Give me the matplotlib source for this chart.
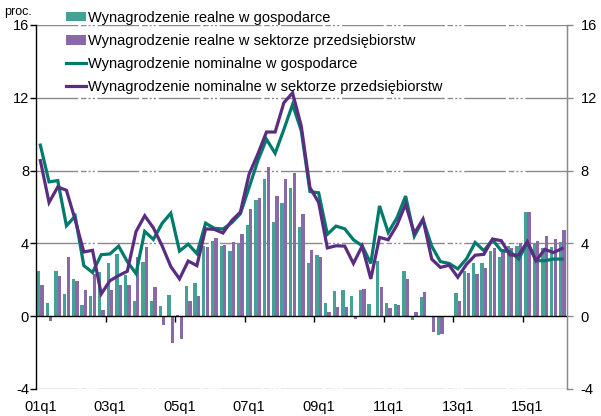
import matplotlib
matplotlib.use("Agg")
import matplotlib.pyplot as plt
from matplotlib.patches import Patch
from matplotlib.lines import Line2D
import numpy as np

plt.rcParams['font.family'] = ['Liberation Sans', 'DejaVu Sans']
plt.rcParams['axes.unicode_minus'] = False

# Quarterly data 2001q1 .. 2016q1 (61 quarters)
tick_labels = ['01q1', '03q1', '05q1', '07q1', '09q1', '11q1', '13q1', '15q1']

real_economy = [2.48, 0.71, 2.48, 1.2, 2.06, 0.62, 1.11, 2.43, 2.9, 3.4, 2.26, 0.82, 3.0, 0.84, 0.55, 1.19, 0.05, 1.64, 1.83,
                3.85, 4.12, 3.88, 3.56, 3.98, 5.0, 6.37, 7.56, 5.2, 6.2, 7.03, 4.91, 2.9, 3.36, 0.71, 1.39, 1.44, 1.1, 1.46, 0.68,
                3.03, 0.73, 0.66, 2.48, -0.2, 1.04, -0.04, -1.05, 0.0,
                1.28, 2.5, 2.94, 2.9, 3.58, 3.23, 3.85, 3.85, 5.7, 4.02, 3.76, 3.78, 4.07]

real_enterprise = [1.72, -0.27, 2.23, 3.23, 1.92, 1.44, 2.32, 0.35, 1.44, 1.72, 1.72, 3.23, 3.82, 1.63, -0.47, -1.46, -1.28, 0.82, 1.13,
                   3.8, 4.32, 3.9, 4.1, 4.53, 5.9, 6.5, 8.22, 6.61, 7.53, 7.89, 5.6, 3.62, 3.23, 0.22, 0.51, 0.51, -0.18, 1.52, -0.07,
                   1.63, 0.44, 0.62, 2.05, 0.22, 1.32, -0.85, -0.97, 0.0,
                   0.86, 2.35, 2.3, 2.63, 3.75, 3.7, 3.73, 4.02, 5.7, 4.13, 4.42, 4.22, 4.72]

nominal_economy = [9.4, 7.38, 7.45, 4.97, 5.5, 2.78, 2.4, 3.38, 3.42, 3.85, 3.0, 2.34, 4.66, 4.22, 5.1, 5.66, 3.58, 3.96, 3.44, 5.11,
                   4.83, 4.79, 5.13, 5.63, 7.07, 8.53, 9.72, 8.95, 10.26, 11.63, 10.2,
                   6.85, 6.78, 4.5, 4.95, 4.8, 4.2, 3.87, 2.9, 6.06,
                   4.6, 5.4, 6.6, 4.4, 5.3, 3.85, 3.0, 2.9, 2.6, 3.15,
                   4.05, 3.6, 4.2, 3.6, 3.55, 3.14, 4.05, 3.05, 3.05, 3.14, 3.14]

nominal_enterprise = [8.55, 6.25, 7.1, 6.92, 5.3, 3.53, 3.62, 1.22, 1.95, 2.23, 2.47, 4.65, 5.52, 4.85, 3.87, 2.73, 2.05, 3.03, 2.78, 4.8,
                      4.77, 4.57, 5.25, 5.72, 7.8, 8.9, 10.12, 10.12, 11.73, 12.27, 10.45,
                      7.07, 6.25, 3.75, 3.87, 3.85, 2.9, 3.85, 2.05, 4.33,
                      4.2, 5.0, 6.15, 4.55, 5.33, 3.14, 2.68, 2.8, 2.14, 2.85,
                      3.35, 3.4, 4.24, 4.15, 3.36, 3.36, 4.1, 3.05, 3.67, 3.5, 3.72]

labels = ['Wynagrodzenie realne w gospodarce',
          'Wynagrodzenie realne w sektorze przedsiębiorstw',
          'Wynagrodzenie nominalne w gospodarce',
          'Wynagrodzenie nominalne w sektorze przedsiębiorstw']

c_bar_teal = '#45a096'
c_bar_purple = '#8a69a9'
c_line_teal = '#007a6b'
c_line_purple = '#5b2d82'

n = len(real_economy)
x = np.arange(n)

fig = plt.figure(figsize=(6.01, 4.16), dpi=100)
ax = fig.add_axes([36/601, 1-389/416, (566.5-36)/601, (389-25)/416])

ax.set_xlim(-0.5, n - 0.5)
ax.set_ylim(-4, 16)

# grid lines
grid_style = dict(color='#8a8a8a', lw=1.0, linestyle=(0, (30, 2, 4, 1.5, 1.5, 1.5, 1.5, 2)), zorder=0)
for gy in [16, 12, 8, 4, -4]:
    ax.axhline(gy, **grid_style)

w = 0.38
ax.bar(x - 0.2, real_economy, width=w, color=c_bar_teal, zorder=2, linewidth=0)
ax.bar(x + 0.2, real_enterprise, width=w, color=c_bar_purple, zorder=2, linewidth=0)
ax.plot(x, nominal_economy, color=c_line_teal, lw=2.3, zorder=3, solid_joinstyle='miter')
ax.plot(x, nominal_enterprise, color=c_line_purple, lw=2.3, zorder=4, solid_joinstyle='miter')

ax.axhline(0, color='black', lw=1.0, zorder=5)

# spines
for s in ['top', 'bottom']:
    ax.spines[s].set_visible(False)
ax.spines['left'].set_color('black')
ax.spines['left'].set_linewidth(1.0)
ax.spines['right'].set_color('#8a8a8a')
ax.spines['right'].set_linewidth(1.0)

yt = [-4, 0, 4, 8, 12, 16]
ax.set_yticks(yt)
ax.set_yticklabels([str(v) for v in yt])
ax.tick_params(axis='y', which='both', left=True, right=True, labelleft=True, labelright=False,
               length=4, width=1, direction='out', labelsize=10.5, pad=1)
ax.yaxis.set_tick_params(color='black')

ax2 = ax.twinx()
ax2.set_ylim(-4, 16)
ax2.set_yticks(yt)
ax2.set_yticklabels([str(v) for v in yt])
ax2.tick_params(axis='y', length=4, width=1, colors='#8a8a8a', labelcolor='black', labelsize=10.5, pad=6)
for s in ['top', 'bottom', 'left']:
    ax2.spines[s].set_visible(False)
ax2.spines['right'].set_color('#8a8a8a')

# x labels at bottom (no tick marks)
label_pos = np.arange(0, n, 8)[:len(tick_labels)]
ax.set_xticks(label_pos)
ax.set_xticklabels(tick_labels)
ax.tick_params(axis='x', length=0, labelsize=10.5, pad=8)

# tick marks on the zero line at year boundaries
sec = ax.secondary_xaxis(0, transform=ax.transData)
sec.set_xticks(label_pos[1:] - 0.5)
sec.set_xticklabels([])
sec.tick_params(axis='x', length=4, width=1, color='black', direction='out')
sec.spines['bottom'].set_visible(False)

fig.text(4/601, 1-12/416, 'proc.', fontsize=9, va='center', ha='left')

handles = [Patch(facecolor=c_bar_teal, edgecolor='none'),
           Patch(facecolor=c_bar_purple, edgecolor='none'),
           Line2D([0], [0], color=c_line_teal, lw=2.3),
           Line2D([0], [0], color=c_line_purple, lw=2.3)]
leg = fig.legend(handles, labels, loc='upper left', bbox_to_anchor=(66/601, 1-11/416),
                 frameon=False, fontsize=10.5, handlelength=1.35, handleheight=0.6,
                 handletextpad=0.15, labelspacing=0.62, borderpad=0, borderaxespad=0)

fig.savefig('out.png', dpi=100)
